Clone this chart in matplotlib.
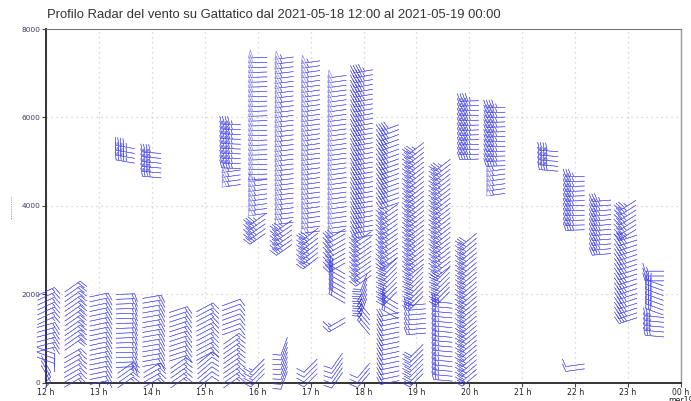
import numpy as np
import matplotlib
matplotlib.use("Agg")
import matplotlib.pyplot as plt

# wind profile segments
# time (h), bottom (m), top (m), direction from (deg), speed (kt)
seg_time = [12.0, 12.0, 12.0, 12.0,
            12.5, 12.5,
            13.0,
            13.5, 13.5, 13.5,
            14.0, 14.0, 14.0,
            14.5, 14.5,
            15.0, 15.0,
            15.5, 15.5, 15.5, 15.5,
            16.0, 16.0, 16.0, 16.0,
            16.5, 16.5, 16.5,
            17.0, 17.0, 17.0,
            17.5, 17.5, 17.5, 17.5, 17.5,
            18.0, 18.0, 18.0, 18.0, 18.0,
            18.5, 18.5, 18.5, 18.5, 18.5,
            19.0, 19.0, 19.0, 19.0,
            19.5, 19.5, 19.5,
            20.0, 20.0,
            20.5, 20.5,
            21.5,
            22.0, 22.0,
            22.5,
            23.0, 23.0,
            23.5, 23.5, 23.5]
seg_bottom = [200, 500, 750, 1400,
              0, 850,
              0,
              0, 350, 5000,
              0, 400, 4650,
              0, 550,
              0, 600,
              0, 1150, 4450, 4850,
              50, 3250, 3800, 4600,
              50, 3000, 3600,
              50, 2700, 3400,
              50, 1250, 1900, 2600, 3400,
              50, 1250, 1700, 2300, 3300,
              0, 1550, 1900, 2700, 4000,
              50, 1100, 1800, 2550,
              50, 1900, 2500,
              50, 5050,
              4250, 4900,
              4800,
              280, 3450,
              2900,
              1400, 3350,
              1050, 1600, 2300]
seg_top = [500, 750, 1400, 2150,
           700, 2250,
           2050,
           350, 2050, 5400,
           400, 1950, 5250,
           550, 1750,
           600, 1750,
           1100, 1850, 4850, 5900,
           450, 3800, 4600, 7450,
           850, 3600, 7450,
           400, 3400, 7300,
           600, 1400, 2600, 3400, 7000,
           300, 1700, 2300, 3300, 7050,
           1550, 1900, 2700, 4000, 5850,
           800, 1800, 2550, 5350,
           1900, 2500, 4950,
           3300, 6400,
           4900, 6300,
           5300,
           400, 4750,
           4150,
           3350, 4050,
           1600, 2300, 2600]
seg_dir = [150, 110, 75, 65,
           60, 55,
           78,
           55, 88, 280,
           60, 80, 275,
           55, 72,
           50, 62,
           55, 70, 262, 272,
           225, 235, 262, 268,
           200, 235, 263,
           225, 232, 262,
           215, 240, 300, 240, 262,
           220, 320, 200, 235, 260,
           258, 300, 225, 235, 250,
           225, 265, 225, 232,
           275, 225, 232,
           230, 268,
           262, 268,
           275,
           262, 268,
           265,
           252, 238,
           275, 290, 270]
seg_speed = [10, 10, 15, 15,
             15, 20,
             15,
             15, 15, 45,
             15, 15, 40,
             15, 15,
             12, 15,
             15, 10, 55, 45,
             15, 35, 55, 50,
             10, 35, 55,
             10, 35, 55,
             10, 15, 20, 30, 50,
             10, 15, 20, 30, 45,
             20, 15, 30, 35, 40,
             20, 15, 30, 35,
             25, 30, 35,
             30, 45,
             55, 45,
             40,
             10, 35,
             35,
             35, 35,
             30, 30, 15]
gate_step = 110  # radar range gate spacing (m)

hour_ticks = list(range(12, 25))
hour_labels = ["%02d h" % (h % 24) for h in hour_ticks]
hour_labels[-1] = "00 h\nmer19"
height_ticks = [0, 2000, 4000, 6000, 8000]

fig = plt.figure(figsize=(6.91, 4.01), dpi=100)
ax = fig.add_axes([46 / 691, 1 - 382.5 / 401, 635 / 691, 353.5 / 401])

xs, ys, us, vs = [], [], [], []
for t, b, tp, d, s in zip(seg_time, seg_bottom, seg_top, seg_dir, seg_speed):
    for h in np.arange(b, tp, gate_step):
        xs.append(t)
        ys.append(h)
        us.append(-s * np.sin(np.radians(d)))
        vs.append(-s * np.cos(np.radians(d)))

ax.barbs(xs, ys, us, vs, length=5.2, pivot='middle', barbcolor='#3b3be8',
         flagcolor='none', linewidth=0.4, alpha=0.7,
         sizes=dict(spacing=0.14, height=0.42, width=0.25), zorder=3,
         clip_on=False)

ax.set_xlim(12, 24)
ax.set_ylim(0, 8000)
ax.set_xticks(hour_ticks)
ax.set_xticklabels(hour_labels, fontsize=5.6, color='#222222', linespacing=0.9)
ax.set_yticks(height_ticks)
ax.set_yticklabels([str(v) for v in height_ticks], fontsize=5.3, color='#3a3a6a')
ax.tick_params(axis='both', length=3, width=0.8, color='#444444', pad=1)
ax.grid(True, color='#cfcfc4', linestyle=(0, (1, 3)), linewidth=0.9)
ax.set_axisbelow(True)

for side in ['left', 'bottom']:
    ax.spines[side].set_color('#333333')
    ax.spines[side].set_linewidth(1.4)
ax.spines['right'].set_color('#999999')
ax.spines['right'].set_linewidth(1.0)
ax.spines['top'].set_color('#777777')
ax.spines['top'].set_linewidth(0.8)
ax.spines['top'].set_linestyle((0, (2, 1)))

fig.text(47 / 691, 1 - 15 / 401,
         "Profilo Radar del vento su Gattatico dal 2021-05-18 12:00 al 2021-05-19 00:00",
         fontsize=9.4, family='Liberation Sans', color='#333333', va='center')
fig.text(11 / 691, 1 - 207 / 401, "." * 14, rotation=90, fontsize=4,
         color='#333333', ha='center', va='center')

fig.savefig("out.png", dpi=100)
